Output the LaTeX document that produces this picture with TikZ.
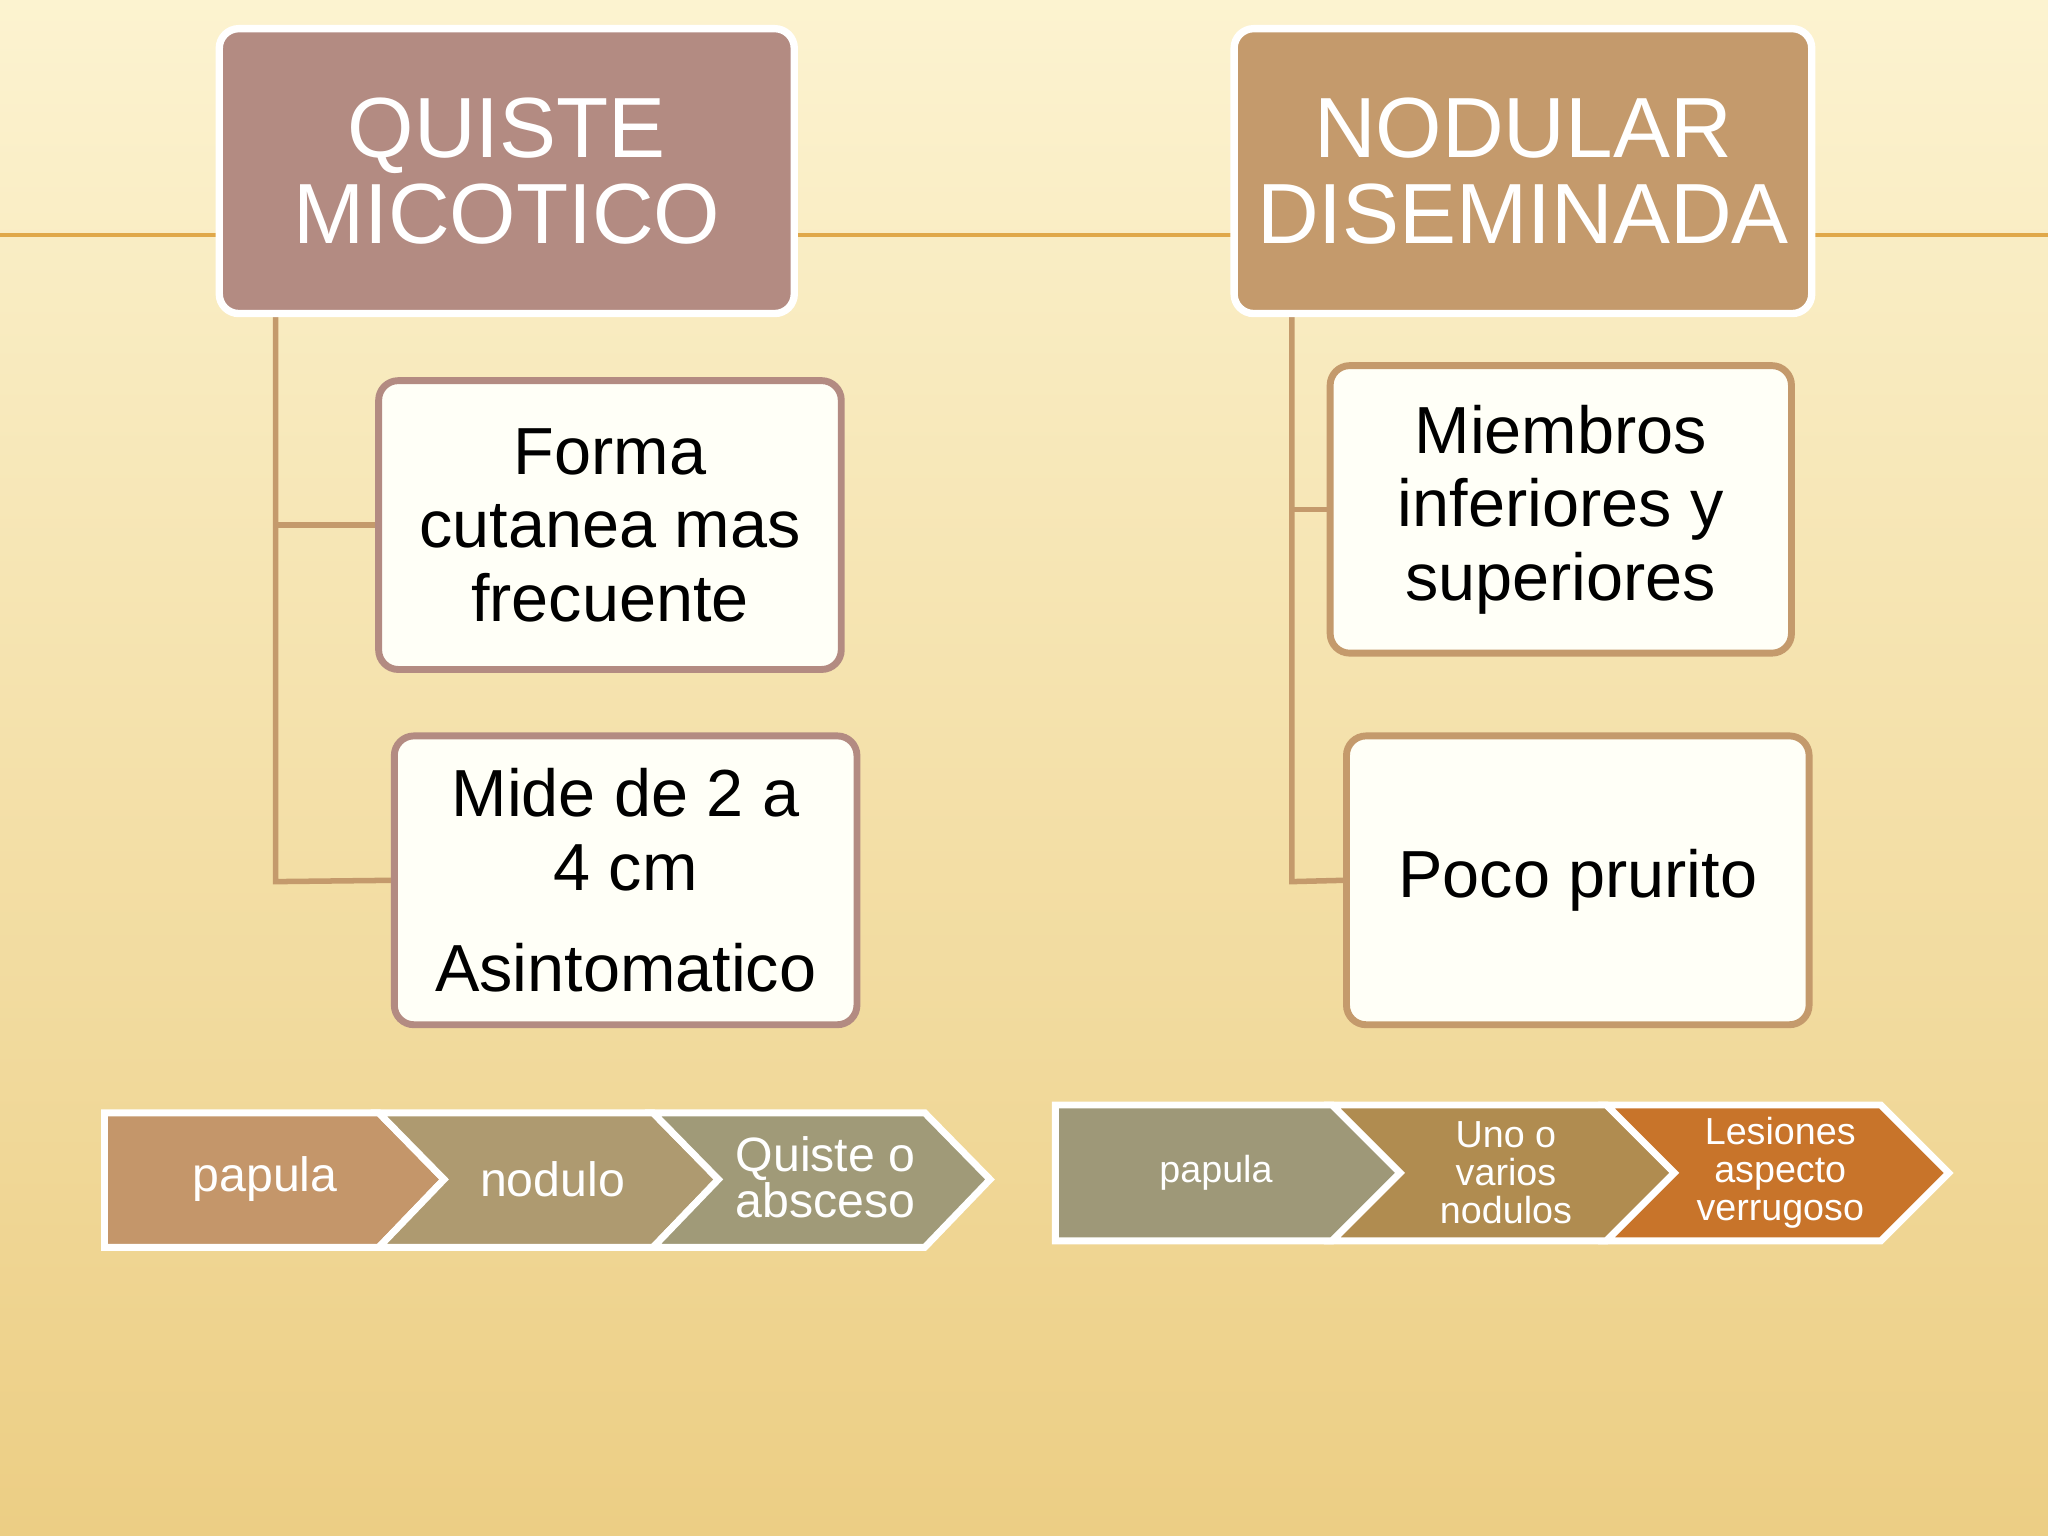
\documentclass[tikz,border=0pt]{standalone}
\usepackage{fontspec}
\setmainfont{Liberation Sans}
\begin{document}
\begin{tikzpicture}[x=0.01cm,y=-0.01cm,
 head/.style={rounded corners=1.5mm, draw=white, line width=1.6pt, text=white, align=center, inner sep=0pt, font=\fontsize{18.6}{18.6}\selectfont},
 sub/.style={rounded corners=1.5mm, fill=white!97!yellow, line width=1.5pt, align=center, inner sep=0pt, font=\fontsize{14.5}{16}\selectfont},
 conn/.style={draw=#1, line width=1.2pt},
 chev/.style={draw=white, line width=1.5pt},
 ctext/.style={text=white, align=center}]
\shade[top color={rgb,255:red,252;green,243;blue,208}, bottom color={rgb,255:red,236;green,206;blue,132}] (0,0) rectangle (1568,1176);
\useasboundingbox (0,0) rectangle (1568,1176);
\definecolor{qc}{RGB}{179,139,130}
\definecolor{nc}{RGB}{196,154,108}
\definecolor{ln}{RGB}{224,168,74}
\coordinate (hl) at (0,180); \coordinate (hr) at (1568,180);
\draw[ln, line width=1pt] (hl) -- (hr);
\coordinate (lt) at (211,240); \coordinate (lb1) at (211,402); \coordinate (lb2) at (211,675);
\coordinate (rt) at (989,240); \coordinate (rb1) at (989,390); \coordinate (rb2) at (989,675);
\node[sub, draw=qc, minimum width=3.54cm, minimum height=2.21cm] (f) at (467,402) {Forma\\cutanea mas\\frecuente};
\node[sub, draw=qc, minimum width=3.54cm, minimum height=2.21cm] (m) at (479,674) {Mide de 2 a\\4 cm\\[6pt]Asintomatico};
\node[sub, draw=nc, minimum width=3.53cm, minimum height=2.20cm] (mi) at (1195,390) {Miembros\\inferiores y\\superiores};
\node[sub, draw=nc, minimum width=3.54cm, minimum height=2.21cm] (p) at (1208,674) {Poco prurito};
\draw[conn=nc] (lt) -- (lb2) -- (m.west); \draw[conn=nc] (lb1) -- (f.west);
\draw[conn=nc] (rt) -- (rb2) -- (p.west); \draw[conn=nc] (rb1) -- (mi.west);
\node[head, fill=qc, minimum width=4.40cm, minimum height=2.18cm] (q) at (388,131) {QUISTE\\MICOTICO};
\node[head, fill=nc, minimum width=4.42cm, minimum height=2.18cm] (n) at (1166,131) {NODULAR\\DISEMINADA};
\definecolor{c1}{RGB}{196,150,106}\definecolor{c2}{RGB}{174,154,112}\definecolor{c3}{RGB}{160,154,120}
\definecolor{d1}{RGB}{158,152,120}\definecolor{d2}{RGB}{176,140,80}\definecolor{d3}{RGB}{200,116,42}
\draw[chev, fill=c1] (80,852) -- (290,852) -- (340,903) -- (290,955) -- (80,955) -- cycle;
\draw[chev, fill=c2] (290,852) -- (500,852) -- (550,903) -- (500,955) -- (290,955) -- (340,903) -- cycle;
\draw[chev, fill=c3] (500,852) -- (708,852) -- (758,903) -- (708,955) -- (500,955) -- (550,903) -- cycle;
\node[ctext, font=\fontsize{10.5}{10}\selectfont] (t1) at (203,903) {papula};
\node[ctext, font=\fontsize{10.5}{10}\selectfont] (t2) at (423,903) {nodulo};
\node[ctext, font=\fontsize{10.5}{10}\selectfont] (t3) at (632,901) {Quiste o\\absceso};
\draw[chev, fill=d1] (808,846) -- (1020,846) -- (1072,898) -- (1020,950) -- (808,950) -- cycle;
\draw[chev, fill=d2] (1020,846) -- (1230,846) -- (1282,898) -- (1230,950) -- (1020,950) -- (1072,898) -- cycle;
\draw[chev, fill=d3] (1230,846) -- (1440,846) -- (1492,898) -- (1440,950) -- (1230,950) -- (1282,898) -- cycle;
\node[ctext, font=\fontsize{8.2}{8.3}\selectfont] (u1) at (931,898) {papula};
\node[ctext, font=\fontsize{8.2}{8.3}\selectfont] (u2) at (1153,898) {Uno o\\varios\\nodulos};
\node[ctext, font=\fontsize{8.2}{8.3}\selectfont] (u3) at (1363,898) {Lesiones\\aspecto\\verrugoso};
\end{tikzpicture}
\end{document}
